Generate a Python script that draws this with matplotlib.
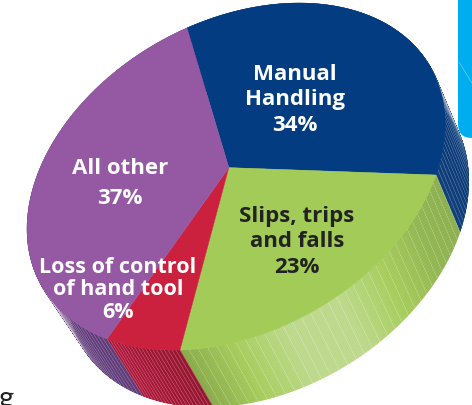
import numpy as np
import matplotlib
matplotlib.use("Agg")
import matplotlib.pyplot as plt
from matplotlib.colors import LinearSegmentedColormap
from matplotlib.patches import FancyBboxPatch, Polygon

categories = ["Manual\nHandling", "Slips, trips\nand falls", "Loss of control\nof hand tool", "All other"]
shares = [34, 23, 6, 37]
top_colors = ["#033c80", "#a2cb57", "#cc213e", "#9558a3"]
text_colors = ["white", "#222222", "white", "white"]
wall_colors = [
    ["#0a3a78", "#0a3a78"],
    ["#88ad48", "#8fb54c", "#a5cc58", "#bcd98a", "#bcd98a", "#a5cc58", "#86a945"],
    ["#96122d", "#b0173a"],
    ["#5f3a78", "#6f4388"],
]
wall_strips = [70, 34, 20, 80]

# где границы секторов лежат на картинке (пиксели)
anchors = np.array([[187, 29], [436, 176], [180, 351], [107, 340]], float)
# точки контура для подбора поворота
guide = np.array([[300, 6], [370, 20], [423, 57], [440, 100], [443, 133], [407, 227], [340, 293], [253, 338],
                  [55, 307], [33, 270], [24, 230], [33, 190], [57, 130]], float)


def homography(src, dst):
    rows = []
    for (x, y), (u, v) in zip(src, dst):
        rows.append([x, y, 1, 0, 0, 0, -u * x, -u * y, -u])
        rows.append([0, 0, 0, x, y, 1, -v * x, -v * y, -v])
    return np.linalg.svd(np.array(rows))[2][-1].reshape(3, 3)


def project(H, t):
    p = H @ np.vstack([np.cos(t), np.sin(t), np.ones_like(t)])
    return (p[:2] / p[2]).T


def drop(p):
    # нижний край: сдвиг чуть зависит от x
    return np.column_stack([p[:, 0] + 39.9 - 0.0365 * p[:, 0], p[:, 1] + 57])


fr = np.cumsum([0] + shares[:-1]) / sum(shares)
ends = np.append(fr, 1.0)


def make_h(t0):
    a = t0 + 2 * np.pi * fr
    return homography(np.column_stack([np.cos(a), np.sin(a)]), anchors)


best, T0 = 1e18, 0.0
for t in np.linspace(3.3, 3.8, 201):
    rim = project(make_h(t), np.linspace(0, 2 * np.pi, 800))
    d = np.hypot(guide[:, None, 0] - rim[None, :, 0], guide[:, None, 1] - rim[None, :, 1]).min(axis=1)
    if (d ** 2).sum() < best:
        best, T0 = (d ** 2).sum(), t
H = make_h(T0)
c = H @ np.array([0, 0, 1.0])
hub = c[:2] / c[2]

fig = plt.figure(figsize=(4.72, 4.06), dpi=100)
ax = fig.add_axes([0, 0, 1, 1])
ax.set_xlim(0, 472)
ax.set_ylim(406, 0)
ax.axis("off")

ax.add_patch(FancyBboxPatch((458, -30), 60, 169, boxstyle="round,pad=0,rounding_size=14",
                            fc="#00aeef", ec="none"))
ax.plot([459, 472], [63, 84], color="#7fd3f3", lw=0.4)

for i in range(4):
    cmap = LinearSegmentedColormap.from_list("w", wall_colors[i])
    n = wall_strips[i]
    edges = np.linspace(ends[i], ends[i + 1], n * 6 + 1)
    for k in range(n * 6):
        fine = np.linspace(edges[k], edges[k + 1], 3)
        up = project(H, T0 + 2 * np.pi * fine)
        col = cmap((k + 0.5) / (n * 6))
        ax.add_patch(Polygon(np.vstack([up, drop(up)[::-1]]), fc=col, ec=col, lw=0.3, zorder=2))
        if k % 6 == 0:
            a, b = up[0], drop(up)[0]
            ax.plot([a[0], b[0]], [a[1], b[1]], color="white", lw=0.35, alpha=0.4, zorder=3)

for i in range(4):
    fine = np.linspace(ends[i], ends[i + 1], 200)
    rim = project(H, T0 + 2 * np.pi * fine)
    ax.add_patch(Polygon(np.vstack([hub, rim]), fc=top_colors[i], ec=top_colors[i], lw=0.3, zorder=4))

font = dict(family="Open Sans", weight="bold", ha="center", va="center", zorder=6)
ax.text(295, 100, f"{categories[0]}\n{shares[0]}%", color=text_colors[0], fontsize=16, linespacing=1.29, **font)
ax.text(297, 242, f"{categories[1]}\n{shares[1]}%", color=text_colors[1], fontsize=16, linespacing=1.28, **font)
ax.text(118, 290, f"{categories[2]}\n{shares[2]}%", color=text_colors[2], fontsize=15.5, linespacing=1.12, **font)
ax.text(120, 169, categories[3], color=text_colors[3], fontsize=16, **font)
ax.text(120, 199, f"{shares[3]}%", color=text_colors[3], fontsize=16, **font)
ax.text(-2, 407, "g", color="#222222", fontsize=21, family="Lato", ha="left", va="baseline")

fig.savefig("out.png", dpi=100)
